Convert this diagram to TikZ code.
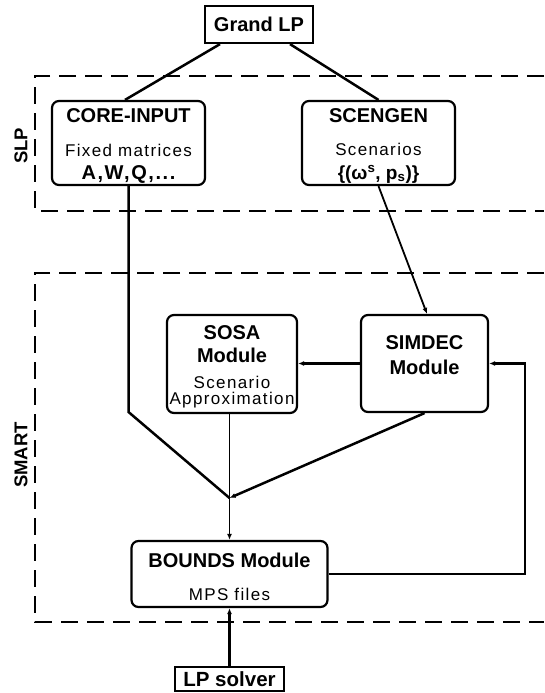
\documentclass[tikz,border=0pt]{standalone}
\usepackage{fontspec}
\setmainfont{Liberation Sans}
\newfontfamily\spacedfont[LetterSpace=8]{Liberation Sans}
\usetikzlibrary{arrows.meta}
\begin{document}
\begin{tikzpicture}[x=1pt,y=-1pt,
  frame/.style={draw, line width=2.3pt, dash pattern=on 17pt off 9pt},
  box/.style={draw, line width=2.2pt, rounded corners=7pt, inner sep=0pt},
  plainbox/.style={draw, line width=2.2pt, inner sep=0pt},
  head/.style={font=\fontsize{20}{24}\selectfont\bfseries, inner sep=0pt, anchor=base},
  note/.style={font=\spacedfont\fontsize{17}{20}\selectfont, inner sep=0pt, anchor=base},
  side/.style={font=\fontsize{18.5}{22}\selectfont\bfseries, inner sep=0pt, rotate=90},
  link/.style={line width=2.5pt},
  tip/.style={-{Latex[length=6pt,width=5pt]}}]
\useasboundingbox (0,0) rectangle (544,693);

% dashed module groups
\draw[frame] (544,76) -- (35,76) -- (35,211) -- (544,211);
\draw[frame] (544,273) -- (35,273) -- (35,622) -- (544,622);
\node[side] (slp) at (21,146) {SLP};
\node[side] (smart) at (21,455) {SMART};

% boxes
\node[plainbox, minimum width=108pt, minimum height=37pt,
      font=\fontsize{20}{24}\selectfont\bfseries] (grand) at (259,24.5) {Grand LP};
\node[box, minimum width=153pt, minimum height=84pt] (core) at (128.5,143) {};
\node[box, minimum width=153pt, minimum height=84pt] (scen) at (378.5,143) {};
\node[box, minimum width=130pt, minimum height=98pt] (sosa) at (232,364) {};
\node[box, minimum width=127pt, minimum height=97pt] (simdec) at (424.5,363.5) {};
\node[box, minimum width=196pt, minimum height=66pt] (bounds) at (229.5,574) {};
\node[plainbox, minimum width=109pt, minimum height=24pt,
      font=\fontsize{20.5}{24}\selectfont\bfseries] (solver) at (229.5,679) {LP solver};

% box texts
\node[head] (coreT) at (128.5,122) {CORE-INPUT};
\node[note] (coreN) at (128.5,156) {Fixed matrices};
\node[head, font=\spacedfont\fontsize{20}{24}\selectfont\bfseries] (coreM) at (128.5,179) {A,W,Q,...};
\node[head] (scenT) at (378.5,122) {SCENGEN};
\node[note] (scenN) at (378.5,155) {Scenarios};
\node[head, font=\fontsize{19}{22}\selectfont\bfseries] (scenM) at (378.5,179) {\{(ω\textsuperscript{s}, p\textsubscript{s})\}};
\node[head] (sosaT) at (232,339) {SOSA};
\node[head] (sosaM) at (232,362) {Module};
\node[note] (sosaN) at (232,388) {Scenario};
\node[note] (sosaA) at (232,404) {Approximation};
\node[head] (simT) at (424.5,349) {SIMDEC};
\node[head] (simM) at (424.5,374) {Module};
\node[head] (bndT) at (229.5,567) {BOUNDS Module};
\node[note] (bndN) at (229.5,600) {MPS files};

% connectors
\coordinate (bend) at (128.5,412);
\coordinate (merge) at (229.5,498);
\coordinate (loop) at (525,574);
\draw[link] ([xshift=-39pt]grand.south) -- ([xshift=-3.5pt]core.north);
\draw[link] ([xshift=31pt]grand.south) -- (scen.north);
\draw[link] (core.south) -- (bend) -- (merge);
\draw[line width=1.8pt, tip] (scen.south) -- ([xshift=2.5pt]simdec.north);
\draw[link, tip] (simdec.west) -- (simdec.west -| sosa.east);
\draw[link, tip] (simdec.south) -- (merge);
\draw[line width=1.4pt, tip] (sosa.south -| merge) -- (bounds.north);
\draw[link, tip] (bounds.east) -- (loop) |- (simdec.east);
\draw[line width=3.2pt, tip] (solver.north) -- (bounds.south);
\end{tikzpicture}
\end{document}
